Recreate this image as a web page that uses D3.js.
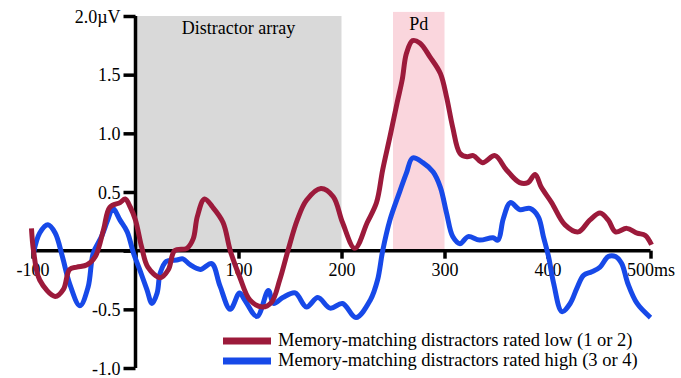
<!DOCTYPE html>
<html>
<head>
<meta charset="utf-8">
<script src="https://cdn.jsdelivr.net/npm/d3@7"></script>
<style>
  body { margin: 0; background: #fff; }
  svg text { font-family: "Liberation Serif", "Times New Roman", serif; fill: #000; }
</style>
</head>
<body>
<svg id="chart" width="681" height="378"></svg>
<script>
// difference waves, ms vs µV
const lowTimes = [-101, -99, -93, -78, -70, -64, -57, -47, -39, -31, -25, -15, -10, -5, 0, 6, 12, 24, 32, 38, 50, 56, 60, 67, 75, 85, 92, 101, 111, 123, 132, 140, 148, 157, 166, 180, 192, 201, 213, 225, 234, 240, 247, 254, 259, 263, 269, 276, 286, 296, 302, 308, 315, 322, 328, 337, 349, 360, 373, 381, 388, 394, 404, 417, 430, 441, 451, 459, 466, 477, 487, 495, 501];
const lowValues = [0.19, 0.0, -0.25, -0.39, -0.33, -0.16, -0.14, -0.12, -0.05, 0.18, 0.37, 0.41, 0.44, 0.37, 0.26, 0.03, -0.14, -0.23, -0.16, 0.0, 0.02, 0.1, 0.29, 0.44, 0.37, 0.24, 0.0, -0.22, -0.42, -0.48, -0.44, -0.25, 0.0, 0.26, 0.43, 0.53, 0.46, 0.24, 0.02, 0.24, 0.41, 0.69, 0.97, 1.26, 1.46, 1.68, 1.79, 1.77, 1.65, 1.51, 1.31, 1.05, 0.83, 0.8, 0.81, 0.75, 0.81, 0.69, 0.58, 0.58, 0.65, 0.54, 0.41, 0.22, 0.16, 0.26, 0.32, 0.26, 0.16, 0.19, 0.15, 0.13, 0.05];

const highTimes = [-99, -93, -85, -78, -71, -64, -54, -46, -41, -33, -27, -22, -15, -8, -2, 4, 11, 16, 21, 24, 30, 40, 46, 53, 63, 74, 82, 92, 101, 106, 118, 129, 134, 143, 155, 166, 177, 189, 201, 214, 228, 235, 240, 247, 256, 263, 269, 279, 289, 296, 302, 308, 315, 323, 334, 347, 352, 357, 364, 373, 383, 391, 396, 401, 406, 414, 422, 429, 435, 443, 451, 459, 466, 472, 478, 487, 500];
const highValues = [-0.02, 0.15, 0.22, 0.15, -0.05, -0.28, -0.47, -0.31, -0.02, 0.12, 0.26, 0.36, 0.26, 0.16, -0.02, -0.16, -0.33, -0.45, -0.36, -0.19, -0.09, -0.08, -0.07, -0.12, -0.16, -0.11, -0.3, -0.5, -0.36, -0.42, -0.56, -0.34, -0.45, -0.4, -0.36, -0.48, -0.4, -0.49, -0.45, -0.57, -0.42, -0.25, 0.0, 0.26, 0.49, 0.66, 0.79, 0.75, 0.67, 0.54, 0.32, 0.12, 0.06, 0.12, 0.09, 0.11, 0.09, 0.27, 0.41, 0.35, 0.36, 0.29, 0.12, -0.05, -0.28, -0.52, -0.45, -0.31, -0.21, -0.18, -0.14, -0.05, -0.05, -0.11, -0.28, -0.45, -0.57];

const seriesNames = ["Memory-matching distractors rated low (1 or 2)", "Memory-matching distractors rated high (3 or 4)"];
const seriesColors = ["#9c1a3b", "#1749e8"];

const windowLabels = ["Distractor array", "Pd"];
const windowStarts = [0, 250];
const windowEnds = [200, 300];
const windowTops = [2.0, 2.035];
const windowColors = ["#d9d9d9", "#fad6dd"];

const xTicks = [-100, 0, 100, 200, 300, 400, 500];
const yTicks = [-1.0, -0.5, 0, 0.5, 1.0, 1.5, 2.0];

const svg = d3.select("#chart");

const x = d3.scaleLinear().domain([-100, 500]).range([32.5, 650.5]);
const y = d3.scaleLinear().domain([-1, 2]).range([368, 16]);

// shaded windows
svg.selectAll("rect.window")
    .data(windowLabels)
    .enter()
    .append("rect")
    .attr("class", "window")
    .attr("x", (d, i) => x(windowStarts[i]))
    .attr("width", (d, i) => x(windowEnds[i]) - x(windowStarts[i]))
    .attr("y", (d, i) => y(windowTops[i]))
    .attr("height", (d, i) => y(0) - y(windowTops[i]))
    .attr("fill", (d, i) => windowColors[i]);

svg.selectAll("text.window")
    .data(windowLabels)
    .enter()
    .append("text")
    .attr("class", "window")
    .attr("x", (d, i) => (x(windowStarts[i]) + x(windowEnds[i])) / 2)
    .attr("y", (d, i) => y(windowTops[i]) + 18)
    .attr("text-anchor", "middle")
    .attr("font-size", 18)
    .text(d => d);

// waves
const line = d3.line()
    .x(d => x(d[0]))
    .y(d => y(d[1]))
    .curve(d3.curveCatmullRom.alpha(0.5));

const lowData = d3.zip(lowTimes, lowValues);
const highData = d3.zip(highTimes, highValues);

// axes
const xAxis = svg.append("g")
    .attr("transform", `translate(0,${y(0)})`)
    .call(d3.axisBottom(x)
        .tickValues(xTicks)
        .tickSize(8)
        .tickPadding(5)
        .tickFormat(d => d === 0 ? "" : (d === 500 ? "500ms" : String(d))));

const yAxis = svg.append("g")
    .attr("transform", `translate(${x(0)},0)`)
    .call(d3.axisLeft(y)
        .tickValues(yTicks)
        .tickSize(12)
        .tickPadding(3)
        .tickFormat(d => d === 0 ? "" : (d === 2 ? "2.0\u00b5V" : d.toFixed(1))));

[xAxis, yAxis].forEach(g => {
    g.attr("font-family", "'Liberation Serif', serif").attr("font-size", 18);
    g.select(".domain").attr("stroke", "#000").attr("stroke-width", 3.5);
    g.selectAll(".tick line").attr("stroke", "#000").attr("stroke-width", 3.5);
    g.selectAll(".tick text").attr("fill", "#000");
});
yAxis.selectAll(".tick text").attr("dy", "0.35em");
xAxis.select(".domain").attr("d", `M${x(-100)},0H${x(500)}`);
yAxis.select(".domain").attr("d", `M0,${y(2)}V${y(-1)}`);

svg.append("path")
    .datum(highData)
    .attr("d", line)
    .attr("fill", "none")
    .attr("stroke", seriesColors[1])
    .attr("stroke-width", 5)
    .attr("stroke-linejoin", "round");

svg.append("path")
    .datum(lowData)
    .attr("d", line)
    .attr("fill", "none")
    .attr("stroke", seriesColors[0])
    .attr("stroke-width", 5)
    .attr("stroke-linejoin", "round");

// legend
const legend = svg.append("g").attr("transform", "translate(223,341)");

legend.selectAll("line")
    .data(seriesNames)
    .enter()
    .append("line")
    .attr("x1", 0)
    .attr("x2", 48)
    .attr("y1", (d, i) => i * 20)
    .attr("y2", (d, i) => i * 20)
    .attr("stroke", (d, i) => seriesColors[i])
    .attr("stroke-width", 7);

legend.selectAll("text")
    .data(seriesNames)
    .enter()
    .append("text")
    .attr("x", 55)
    .attr("y", (d, i) => i * 20 + 5)
    .attr("font-size", 18.5)
    .text(d => d);
</script>
</body>
</html>
